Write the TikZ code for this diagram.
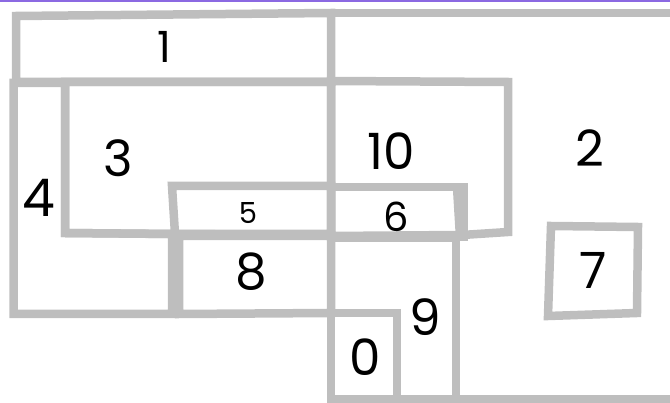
\documentclass[tikz,border=0pt]{standalone}
\usepackage{fontspec}
\setmainfont{Poppins}
\definecolor{edge}{RGB}{190,190,190}
\definecolor{topbar}{RGB}{139,105,226}
\begin{document}
\begin{tikzpicture}[x=1pt,y=-1pt,
  wall/.style={draw=edge,line width=8.5pt,line join=miter},
  lbl/.style={inner sep=0pt,text=black}]
\useasboundingbox (0,0) rectangle (670,403);
\fill[topbar] (0,0) rectangle (670,2.5);
% region 1
\draw[wall] (16,16) -- (331,13) -- (331,82) -- (16,82) -- cycle;
% region 2 (outer edges)
\draw[wall] (331,13) -- (680,13);
\draw[wall] (456,399) -- (680,399);
% region 4
\draw[wall] (13.5,83) -- (65,83) -- (65,233) -- (172,234) -- (172,314) -- (13.5,314) -- cycle;
% region 3
\draw[wall] (65,82) -- (331,82) -- (331,235) -- (176,234) -- (65,233) -- cycle;
% region 5
\draw[wall] (172,186) -- (331,186) -- (331,234) -- (175,234) -- cycle;
% region 10
\draw[wall] (331,81) -- (508,82) -- (508,232) -- (462,235) -- (331,236) -- cycle;
% region 6
\draw[wall] (331,187) -- (464,187) -- (464,237) -- (331,237) -- cycle;
\draw[wall] (457,187) -- (460,237);
% region 8
\draw[wall] (179,236) -- (331,236) -- (331,313) -- (179,314) -- cycle;
% region 9
\draw[wall] (331,238) -- (456,238) -- (456,399) -- (331,399) -- cycle;
% region 0
\draw[wall] (331,313) -- (397,313) -- (397,399) -- (331,399) -- cycle;
% region 7
\draw[wall] (551,226) -- (638,227) -- (637,313) -- (548,316) -- cycle;
% labels
\node[lbl,font=\fontsize{43}{43}\selectfont] (l1) at (164,47) {1};
\node[lbl,font=\fontsize{50}{50}\selectfont] (l2) at (590,148) {2};
\node[lbl,font=\fontsize{50}{50}\selectfont] (l3) at (118,158) {3};
\node[lbl,font=\fontsize{52}{52}\selectfont] (l4) at (39,198) {4};
\node[lbl,font=\fontsize{29}{29}\selectfont] (l5) at (248,213) {5};
\node[lbl,font=\fontsize{40}{40}\selectfont] (l6) at (396,217) {6};
\node[lbl,font=\fontsize{50}{50}\selectfont] (l7) at (593,270) {7};
\node[lbl,font=\fontsize{50}{50}\selectfont] (l8) at (251,272) {8};
\node[lbl,font=\fontsize{50}{50}\selectfont] (l9) at (425,317) {9};
\node[lbl,font=\fontsize{50}{50}\selectfont] (l0) at (365,357) {0};
\node[lbl,font=\fontsize{50}{50}\selectfont] (l10) at (391,151) {10};
\end{tikzpicture}
\end{document}
